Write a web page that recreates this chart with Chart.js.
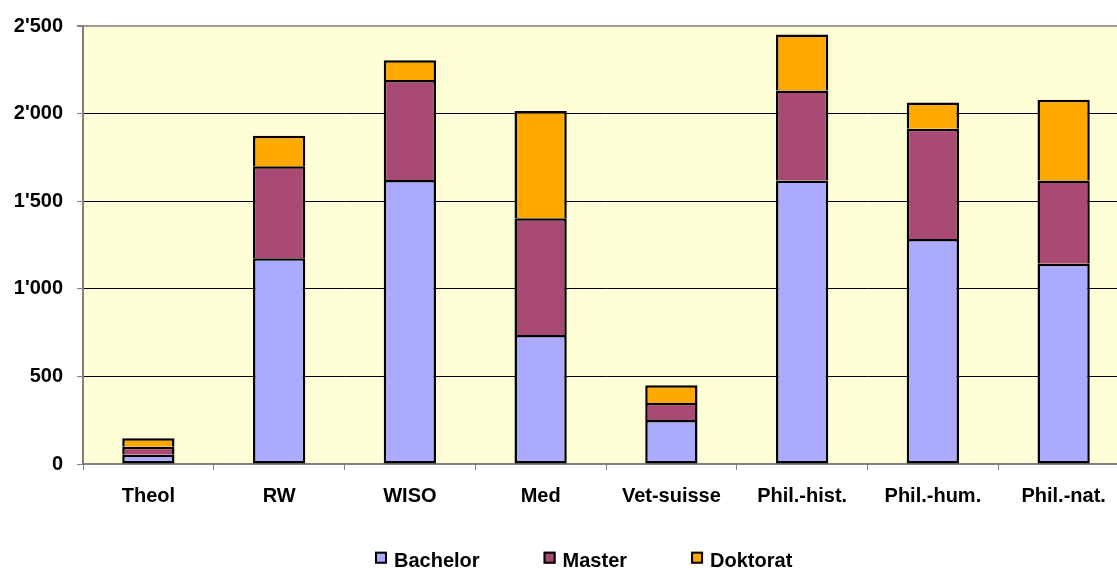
<!DOCTYPE html>
<html>
<head>
<meta charset="utf-8">
<script src="https://cdn.jsdelivr.net/npm/chart.js@4/dist/chart.umd.min.js"></script>
<style>
  html, body { margin: 0; padding: 0; overflow: hidden; background: #ffffff; }
  #wrap { position: absolute; left: 0; top: 0; width: 1130px; height: 568px; }
</style>
</head>
<body>
<div id="wrap"><canvas id="c"></canvas></div>
<script>
const categories = ['Theol', 'RW', 'WISO', 'Med', 'Vet-suisse', 'Phil.-hist.', 'Phil.-hum.', 'Phil.-nat.'];
const bachelor = [53, 1174, 1621, 737, 251, 1618, 1284, 1143];
const master   = [46, 526, 571, 666, 97, 514, 629, 475];
const doktorat = [48, 174, 112, 612, 102, 319, 151, 461];
const seriesNames = ['Bachelor', 'Master', 'Doktorat'];
const yMin = 0, yMax = 2500, yStep = 500;

function fmt(v) {
  return String(v).replace(/\B(?=(\d{3})+(?!\d))/g, "'");
}

const FONT_FAMILY = "'Liberation Sans', Arial, sans-serif";
const FONT = { family: FONT_FAMILY, size: 20, weight: 'bold' };

const plotBg = {
  id: 'plotBg',
  beforeDraw(chart) {
    const a = chart.chartArea, ctx = chart.ctx;
    ctx.save();
    ctx.fillStyle = '#FFFFD7';
    ctx.fillRect(a.left, a.top, a.right - a.left, a.bottom - a.top);
    ctx.restore();
  }
};

// Legend drawn below the axis labels, centred like the original
const bottomLegend = {
  id: 'bottomLegend',
  afterDraw(chart) {
    const ctx = chart.ctx;
    const boxSize = 12, textGap = 7, itemGap = 64, centerX = 583.5, baseY = 566.5;
    ctx.save();
    ctx.font = 'bold 20px ' + FONT_FAMILY;
    ctx.textBaseline = 'alphabetic';
    ctx.textAlign = 'left';
    const items = chart.data.datasets.map(ds => ({
      text: ds.label, fill: ds.backgroundColor,
      w: boxSize + textGap + ctx.measureText(ds.label).width
    }));
    const total = items.reduce((s, it) => s + it.w, 0) + itemGap * (items.length - 1);
    let x = Math.round(centerX - total / 2);
    items.forEach(it => {
      const by = baseY - 14.8;
      ctx.fillStyle = it.fill;
      ctx.fillRect(x, by, boxSize, boxSize);
      ctx.strokeStyle = '#000000';
      ctx.lineWidth = 2;
      ctx.strokeRect(x + 1, by + 1, boxSize - 2, boxSize - 2);
      ctx.fillStyle = '#000000';
      ctx.fillText(it.text, x + boxSize + textGap, baseY);
      x += it.w + itemGap;
    });
    ctx.restore();
  }
};

new Chart(document.getElementById('c'), {
  type: 'bar',
  data: {
    labels: categories,
    datasets: [
      { label: seriesNames[0], data: bachelor, backgroundColor: '#AAAAFF', borderColor: '#000000', borderWidth: 2.5, borderSkipped: false },
      { label: seriesNames[1], data: master, backgroundColor: '#A94A75', borderColor: '#000000', borderWidth: 2.5, borderSkipped: 'start' },
      { label: seriesNames[2], data: doktorat, backgroundColor: '#FFA800', borderColor: '#000000', borderWidth: 2.5, borderSkipped: 'start' }
    ]
  },
  options: {
    responsive: true,
    maintainAspectRatio: false,
    animation: false,
    datasets: { bar: { barPercentage: 0.4, categoryPercentage: 1.0 } },
    layout: { padding: { left: 0, right: 1, top: 22, bottom: 60 } },
    plugins: {
      tooltip: { enabled: false },
      legend: { display: false }
    },
    scales: {
      x: {
        stacked: true,
        afterFit(scale) { scale.height = 44; },
        grid: {
          display: true,
          drawOnChartArea: false,
          drawTicks: true,
          tickLength: 6,
          color: '#808080',
          offset: true
        },
        border: { display: true, color: '#808080', width: 2 },
        ticks: { font: FONT, color: '#000000', padding: 14, maxRotation: 0, autoSkip: false }
      },
      y: {
        stacked: true,
        min: yMin,
        max: yMax,
        afterFit(scale) { scale.width = 83; },
        ticks: {
          stepSize: yStep,
          font: FONT,
          color: '#000000',
          padding: 14,
          callback: (v) => fmt(v)
        },
        grid: {
          tickLength: 6,
          tickColor: '#808080',
          color: (ctx) => {
            const v = ctx.tick ? ctx.tick.value : null;
            if (v === yMax) return '#999999';
            if (v === yMin) return 'rgba(0,0,0,0)';
            return '#000000';
          },
          lineWidth: (ctx) => (ctx.tick && ctx.tick.value === yMax) ? 2 : 1
        },
        border: { display: true, color: '#808080', width: 2 }
      }
    }
  },
  plugins: [plotBg, bottomLegend]
});
</script>
</body>
</html>
